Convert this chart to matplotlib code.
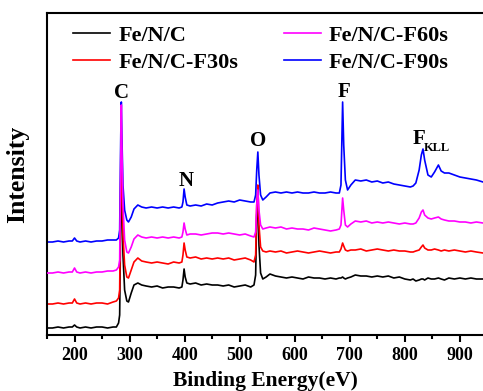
import matplotlib
matplotlib.use("Agg")
import matplotlib.pyplot as plt
from matplotlib.ticker import MultipleLocator

# Binding energy grid (eV)
energy = [150,160,170,180,190,196,200,204,210,220,230,240,250,260,270,276,280,282,284,285,286,288,291,295,298,303,308,315,322,330,
          340,350,360,370,380,390,395,397,399,401,404,410,420,430,440,450,460,470,480,490,500,510,520,526,529,531,533,535,538,542,
          548,555,565,575,585,595,605,615,625,635,645,655,665,675,681,684,687,689,692,696,702,710,720,730,740,750,760,770,780,790,
          800,810,815,820,826,830,833,836,842,848,854,861,866,872,880,890,900,910,920,930,942]

fenc = [7,7,8,7,8,8,10,8,7,8,7,8,8,7,8,8,12,20,120,160,140,80,45,34,33,42,50,52,50,49,
        48,49,47,48,48,47,48,55,66,58,52,51,52,50,51,50,50,49,50,48,49,50,48,50,60,120,140,90,62,56,
        58,61,59,58,57,58,57,56,58,57,57,56,57,56,57,57,58,57,56,57,58,60,59,59,58,59,58,59,57,58,
        56,55,56,54,55,56,56,55,57,56,56,57,56,55,57,56,57,56,57,56,56]

f30 = [31,31,32,31,32,32,36,32,31,32,31,32,32,31,33,34,37,45,150,195,165,100,70,58,57,65,73,77,74,73,
       72,73,72,71,73,72,73,80,92,85,78,77,78,76,77,76,77,76,77,75,76,77,75,73,80,130,150,110,88,84,
       83,84,83,84,82,83,84,83,82,83,84,83,82,83,83,86,92,89,85,84,85,85,86,84,85,86,85,84,85,84,
       84,83,83,84,85,88,90,87,85,85,86,85,84,85,84,85,84,83,84,83,82]

f60 = [62,62,63,62,63,63,67,63,62,63,62,63,63,64,64,65,68,75,180,230,190,130,95,83,82,88,96,100,98,97,
       98,97,98,97,98,97,98,103,112,106,100,101,101,100,101,102,102,101,102,101,100,101,99,98,103,130,145,125,110,106,
       107,108,107,108,106,107,106,106,105,107,106,105,104,105,106,110,137,125,110,108,111,114,113,114,112,113,112,113,112,111,
       112,111,111,112,117,123,125,120,117,116,117,118,116,115,114,114,113,113,112,113,112]

f90 = [93,93,94,93,94,94,97,94,93,94,93,94,94,95,95,95,97,105,200,233,200,150,125,115,113,118,126,130,128,127,
       128,127,128,127,128,127,128,133,146,138,130,129,130,129,131,130,132,133,134,133,135,134,133,133,140,165,183,160,140,135,
       138,142,143,142,143,142,143,142,142,143,142,142,143,142,142,150,233,190,155,145,150,155,154,155,153,154,152,153,151,150,
       149,148,149,152,165,180,186,175,160,158,163,170,164,162,162,160,158,157,156,155,153]

labels = ["Fe/N/C", "Fe/N/C-F30s", "Fe/N/C-F60s", "Fe/N/C-F90s"]
colors = ["#000000", "#ff0000", "#ff00ff", "#0000ff"]
series = [fenc, f30, f60, f90]

peak_names = ["C", "N", "O", "F"]
peak_pos = [286, 402, 533, 690]
peak_y = [242, 154, 194, 243]

fig = plt.figure(figsize=(4.83, 3.91), dpi=100)
ax = fig.add_axes([47/483, 56/391, 1 - 47/483, 322/391])

font = "Liberation Serif"
handles = []
for ys, c, lab in zip(series, colors, labels):
    h, = ax.plot(energy, ys, color=c, lw=1.2, label=lab)
    handles.append(h)
handles[2].set_zorder(3)

ax.set_xlim(150, 942)
ax.set_ylim(0, 322)
ax.set_yticks([])
ax.xaxis.set_major_locator(MultipleLocator(100))
ax.xaxis.set_minor_locator(MultipleLocator(50))
ax.tick_params(axis="x", which="major", direction="out", length=5, width=1.5, pad=4)
ax.tick_params(axis="x", which="minor", direction="out", length=3, width=1.5)
for sp in ["left", "bottom", "top"]:
    ax.spines[sp].set_linewidth(1.5)
ax.spines["right"].set_visible(False)

for t in ax.get_xticklabels():
    t.set_fontfamily(font)
    t.set_fontweight("bold")
    t.set_fontsize(13)

ax.set_xlabel("Binding Energy(eV)", fontfamily=font, fontweight="bold", fontsize=15.5, labelpad=5)
ax.set_ylabel("Intensity", fontfamily=font, fontweight="bold", fontsize=18.5, labelpad=13)

for n, xp, yp in zip(peak_names, peak_pos, peak_y):
    ax.text(xp, yp, n, ha="center", va="center", fontfamily=font, fontweight="bold", fontsize=15)
ax.text(826, 196, "F", ha="center", va="center", fontfamily=font, fontweight="bold", fontsize=15)
ax.text(835, 187, "KLL", ha="left", va="center", fontfamily=font, fontweight="bold", fontsize=9)

leg = ax.legend(handles=handles, ncol=2, loc="upper left", bbox_to_anchor=(73/483, 1 - 25/391),
                bbox_transform=fig.transFigure, frameon=False, borderpad=0, borderaxespad=0,
                handlelength=1.67, handletextpad=0.36, columnspacing=2.07, labelspacing=0.32,
                prop={"family": font, "weight": "bold", "size": 16})

fig.savefig("out.png", dpi=100)
